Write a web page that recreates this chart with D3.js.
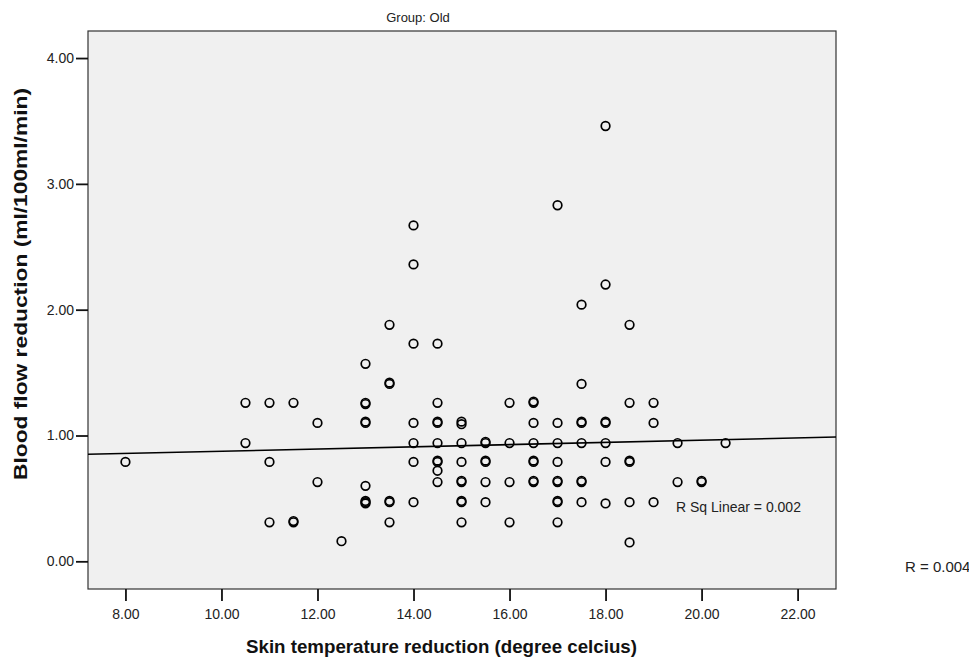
<!DOCTYPE html>
<html lang="en">

<head>
    <meta charset="utf-8">
    <title>Group: Old - Skin temperature vs blood flow reduction</title>
    <style>
        body {
            margin: 0;
            background: #fff;
            font-family: "Liberation Sans", Arial, sans-serif;
        }

        .tick text {
            font-family: "Liberation Sans", Arial, sans-serif;
            font-size: 14px;
            fill: #222;
        }

        .tick line {
            stroke: #111;
            stroke-width: 1.8;
        }

        text.title {
            font-weight: bold;
            font-size: 19px;
            fill: #111;
        }

        circle.pt {
            fill: none;
            stroke: #000;
            stroke-width: 1.7;
        }
    </style>
</head>

<body>
    <svg width="969" height="659"></svg>
    <script src="https://d3js.org/d3.v7.min.js"></script>
    <script>
        // skin temperature reduction (x) and blood flow reduction (y), one entry per subject
        const skinTemp = [
            8,
            10.5, 10.5,
            11, 11, 11,
            11.5, 11.5, 11.5,
            12, 12,
            12.5,
            13, 13, 13, 13, 13, 13, 13, 13, 13,
            13.5, 13.5, 13.5, 13.5, 13.5, 13.5,
            14, 14, 14, 14, 14, 14, 14,
            14.5, 14.5, 14.5, 14.5, 14.5, 14.5, 14.5, 14.5, 14.5,
            15, 15, 15, 15, 15, 15, 15, 15, 15,
            15.5, 15.5, 15.5, 15.5, 15.5, 15.5,
            16, 16, 16, 16,
            16.5, 16.5, 16.5, 16.5, 16.5, 16.5, 16.5, 16.5,
            17, 17, 17, 17, 17, 17, 17, 17, 17,
            17.5, 17.5, 17.5, 17.5, 17.5, 17.5, 17.5, 17.5,
            18, 18, 18, 18, 18, 18, 18,
            18.5, 18.5, 18.5, 18.5, 18.5, 18.5,
            19, 19, 19,
            19.5, 19.5,
            20, 20,
            20.5
        ];
        const bloodFlow = [
            0.79,
            1.26, 0.94,
            1.26, 0.79, 0.31,
            1.26, 0.31, 0.32,
            1.10, 0.63,
            0.16,
            1.57, 1.26, 1.25, 1.10, 1.11, 0.60, 0.47, 0.48, 0.46,
            1.88, 1.41, 1.42, 0.47, 0.48, 0.31,
            2.67, 2.36, 1.73, 1.10, 0.94, 0.79, 0.47,
            1.73, 1.26, 1.10, 1.11, 0.94, 0.79, 0.80, 0.72, 0.63,
            1.11, 1.09, 0.94, 0.79, 0.63, 0.64, 0.47, 0.48, 0.31,
            0.94, 0.95, 0.79, 0.80, 0.63, 0.47,
            1.26, 0.94, 0.63, 0.31,
            1.26, 1.27, 1.10, 0.94, 0.79, 0.80, 0.63, 0.64,
            2.83, 1.10, 0.94, 0.79, 0.63, 0.64, 0.47, 0.48, 0.31,
            2.04, 1.41, 1.10, 1.11, 0.94, 0.63, 0.64, 0.47,
            3.46, 2.20, 1.10, 1.11, 0.94, 0.79, 0.46,
            1.88, 1.26, 0.79, 0.80, 0.47, 0.15,
            1.26, 1.10, 0.47,
            0.94, 0.63,
            0.63, 0.64,
            0.94
        ];

        const xTicks = [8, 10, 12, 14, 16, 18, 20, 22];
        const yTicks = [0, 1, 2, 3, 4];

        // linear fit as printed by SPSS
        const fitIntercept = 0.787,
            fitSlope = 0.0088;
        const rSqLabel = 'R Sq Linear = 0.002';
        const rLabel = 'R = 0.004';
        const groupLabel = 'Group: Old';

        var svg = d3.select('svg');

        var frame = { left: 88, top: 31, right: 836, bottom: 589 };

        var x = d3.scaleLinear().domain([7.22, 22.8]).range([frame.left, frame.right]),
            y = d3.scaleLinear().domain([-0.22, 4.215]).range([frame.bottom, frame.top]),
            fmt = d3.format('.2f');

        svg.append('rect')
            .attr('x', frame.left)
            .attr('y', frame.top)
            .attr('width', frame.right - frame.left)
            .attr('height', frame.bottom - frame.top)
            .attr('fill', '#f0f0f0')
            .attr('stroke', '#333')
            .attr('stroke-width', 1.2);

        var xAxis = svg.append('g')
            .attr('transform', `translate(0, ${frame.bottom})`)
            .call(d3.axisBottom(x).tickValues(xTicks).tickFormat(fmt).tickSize(12).tickPadding(8));
        xAxis.select('.domain').remove();

        var yAxis = svg.append('g')
            .attr('transform', `translate(${frame.left}, 0)`)
            .call(d3.axisLeft(y).tickValues(yTicks).tickFormat(fmt).tickSize(12).tickPadding(2));
        yAxis.select('.domain').remove();

        // fit line across the whole frame
        var xd = x.domain();
        svg.append('line')
            .attr('x1', x(xd[0]))
            .attr('x2', x(xd[1]))
            .attr('y1', y(fitIntercept + fitSlope * xd[0]))
            .attr('y2', y(fitIntercept + fitSlope * xd[1]))
            .attr('stroke', '#000')
            .attr('stroke-width', 1.6);

        svg.append('g').selectAll('circle')
            .data(d3.zip(skinTemp, bloodFlow))
            .enter().append('circle')
            .attr('class', 'pt')
            .attr('cx', d => x(d[0]))
            .attr('cy', d => y(d[1]))
            .attr('r', 4.3);

        svg.append('text')
            .attr('x', 676)
            .attr('y', 511.5)
            .style('font-size', '14px')
            .attr('fill', '#222')
            .text(rSqLabel);

        svg.append('text')
            .attr('x', 418)
            .attr('y', 22)
            .attr('text-anchor', 'middle')
            .style('font-size', '13px')
            .attr('fill', '#222')
            .text(groupLabel);

        svg.append('text')
            .attr('x', 905)
            .attr('y', 572)
            .style('font-size', '15px')
            .attr('fill', '#222')
            .text(rLabel);

        svg.append('text')
            .attr('class', 'title')
            .attr('x', 246)
            .attr('y', 652.5)
            .attr('textLength', 391)
            .attr('lengthAdjust', 'spacingAndGlyphs')
            .text('Skin temperature reduction (degree celcius)');

        svg.append('text')
            .attr('class', 'title')
            .attr('transform', 'translate(27, 480) rotate(-90)')
            .attr('textLength', 392)
            .attr('lengthAdjust', 'spacingAndGlyphs')
            .text('Blood flow reduction (ml/100ml/min)');
    </script>
</body>

</html>
